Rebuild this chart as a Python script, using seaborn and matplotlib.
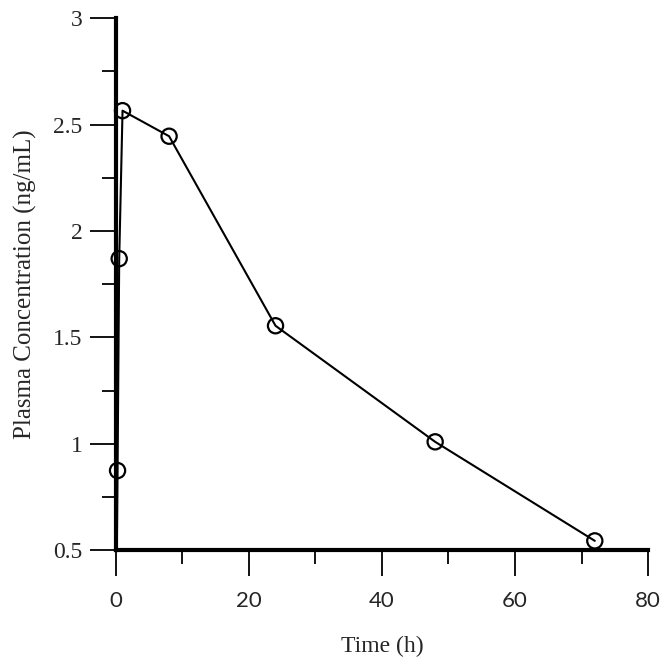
import matplotlib
matplotlib.use("Agg")
import matplotlib.pyplot as plt
import seaborn as sns
import pandas as pd
from matplotlib.ticker import MultipleLocator

# sampling times (h) and plasma concentration (ng/mL)
time_h = [0, 0.25, 0.5, 1, 8, 24, 48, 72]
conc = [0, 0.875, 1.87, 2.565, 2.445, 1.555, 1.01, 0.545]

x_ticks = [0, 20, 40, 60, 80]
y_ticks = [0.5, 1, 1.5, 2, 2.5, 3]
y_tick_labels = ["0.5", "1", "1.5", "2", "2.5", "3"]

df = pd.DataFrame({"Time (h)": time_h, "Conc": conc})
pts = df[df["Time (h)"] > 0]  # measured samples get the open circles

sns.set_style("ticks")
plt.rcParams['font.family'] = ['Liberation Serif', 'DejaVu Serif']

fig = plt.figure(figsize=(6.66, 6.68), dpi=100)
ax = fig.add_axes([0.174, 0.176, 0.799, 0.797])

sns.lineplot(data=df, x="Time (h)", y="Conc", ax=ax, color="black",
             linewidth=1.5)
sns.scatterplot(data=pts, x="Time (h)", y="Conc", ax=ax, s=120,
                facecolor="none", edgecolor="black", linewidth=1.6,
                clip_on=False, zorder=5)

ax.set_xlim(0, 80)
ax.set_ylim(0.5, 3)
ax.set_xticks(x_ticks)
ax.set_yticks(y_ticks)
ax.set_yticklabels(y_tick_labels)
ax.xaxis.set_minor_locator(MultipleLocator(10))
ax.yaxis.set_minor_locator(MultipleLocator(0.25))

sns.despine(ax=ax)
for s in ["left", "bottom"]:
    ax.spines[s].set_linewidth(3)
    ax.spines[s].set_color("black")

ax.tick_params(axis="both", which="major", length=19, width=1.3,
               color="black", direction="out")
ax.tick_params(axis="both", which="minor", length=10, width=1.3,
               color="black", direction="out")
ax.tick_params(axis="y", which="major", labelsize=17, pad=5)
ax.tick_params(axis="x", which="major", labelsize=16, pad=10)
for lab in ax.get_xticklabels():
    lab.set_family(["Lato", "DejaVu Sans"])

ax.set_xlabel("Time (h)", fontsize=17, labelpad=18)
ax.set_ylabel("Plasma Concentration (ng/mL)", fontsize=18, labelpad=12)

fig.savefig("out.png", dpi=100)
